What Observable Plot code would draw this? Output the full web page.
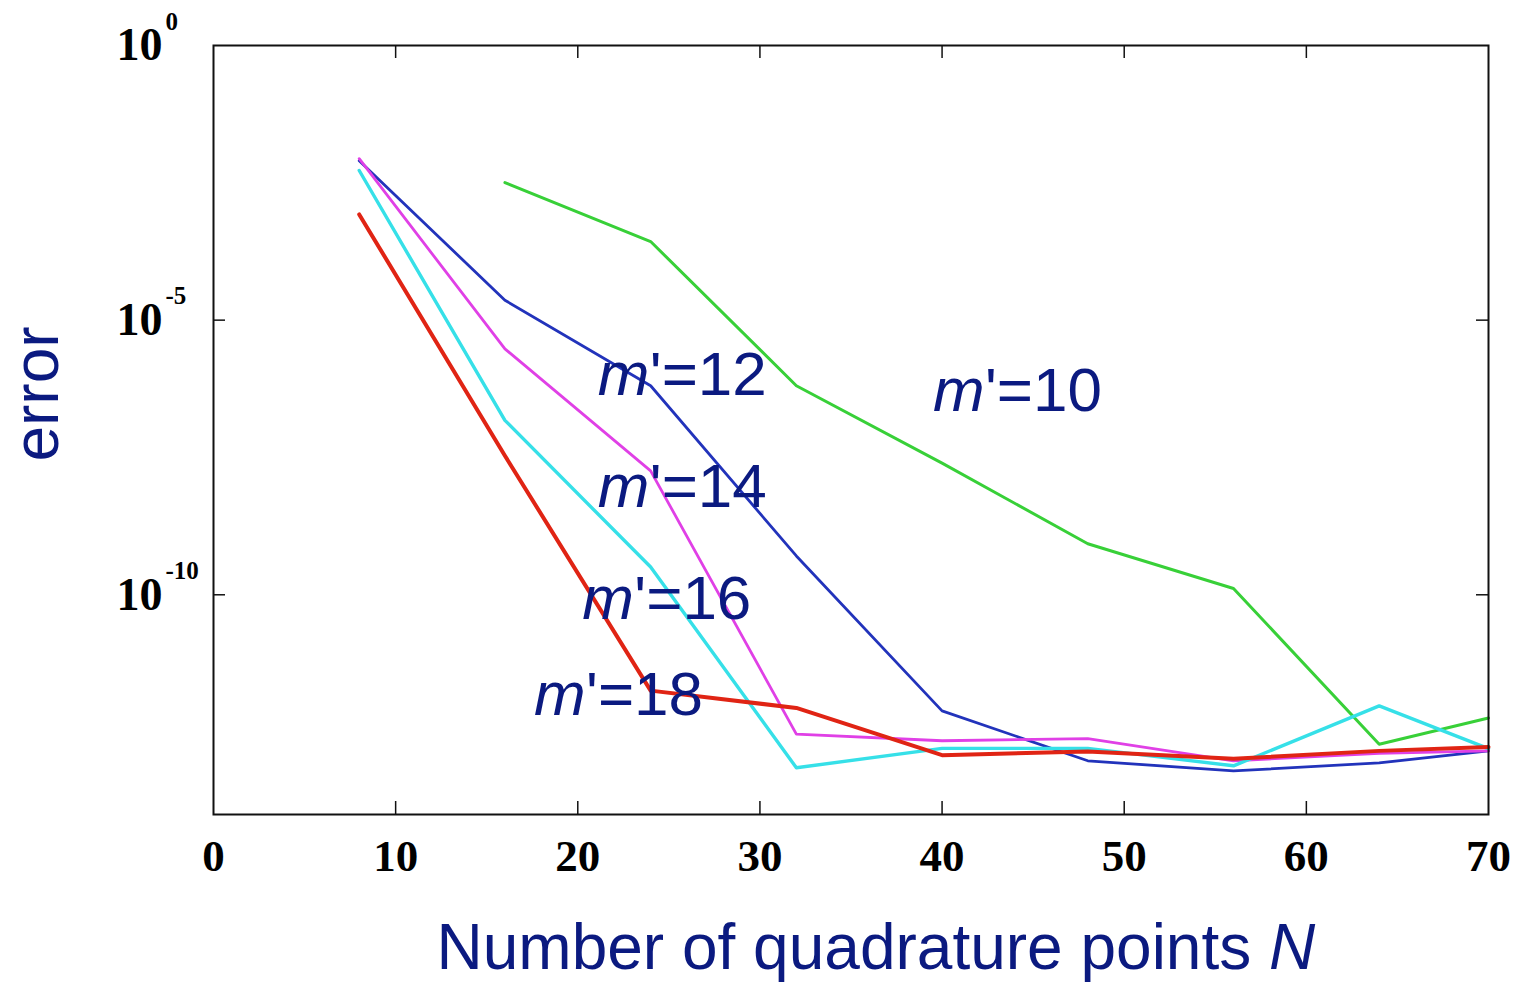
<!DOCTYPE html>
<html>
<head>
<meta charset="utf-8">
<script src="https://cdn.jsdelivr.net/npm/d3@7"></script>
<script src="https://cdn.jsdelivr.net/npm/@observablehq/plot@0.6"></script>
<style>
  html, body { margin: 0; padding: 0; background: #fff; }
  #chart svg { display: block; }
</style>
</head>
<body>
<div id="chart"></div>
<script>
// Quadrature error versus number of quadrature points N, one curve per m'
const N = [8, 16, 24, 32, 40, 48, 56, 64, 70];

const err10 = [null, 3.2e-3, 2.7e-4, 6.4e-7, 2.5e-8, 8.5e-10, 1.3e-10, 1.9e-13, 5.7e-13];
const err12 = [8.0e-3, 2.3e-5, 6.4e-7, 5.1e-10, 7.7e-13, 9.5e-14, 6.2e-14, 8.7e-14, 1.44e-13];
const err14 = [8.7e-3, 3.0e-6, 1.8e-8, 2.9e-13, 2.2e-13, 2.4e-13, 9.5e-14, 1.3e-13, 1.44e-13];
const err16 = [5.3e-3, 1.5e-7, 3.2e-10, 7.1e-14, 1.6e-13, 1.6e-13, 7.7e-14, 9.5e-13, 1.58e-13];
const err18 = [8.4e-4, 3.4e-8, 1.8e-12, 8.7e-13, 1.2e-13, 1.4e-13, 1.03e-13, 1.44e-13, 1.7e-13];

const seriesM = [10, 12, 14, 16, 18];
const seriesErr = [err10, err12, err14, err16, err18];
const seriesColor = ["#38d038", "#2233bb", "#e040e6", "#36e0e8", "#e02414"];
const seriesWidth = [3, 2.8, 2.8, 3.4, 4];

// Curve labels: m' value and the (N, error) point where each label starts
const labelM = [10, 12, 14, 16, 18];
const labelN = [39.5, 21.1, 21.1, 20.25, 17.6];
const labelErr = [2.25e-7, 4.4e-7, 3.9e-9, 3.7e-11, 6.6e-13];

// Axis ticks
const xTicks = [0, 10, 20, 30, 40, 50, 60, 70];
const xInnerTicks = [10, 20, 30, 40, 50, 60];
const yTicks = [1, 1e-5, 1e-10];
const yExponents = ["0", "-5", "-10"];
const yInnerTicks = [1e-5, 1e-10];

const rows = seriesM.flatMap((m, i) =>
  N.map((n, j) => ({m, N: n, err: seriesErr[i][j]})).filter(d => d.err != null)
);
const labels = labelM.map((m, i) => ({m, N: labelN[i], err: labelErr[i]}));
const yLabels = yTicks.map((v, i) => ({v, exp: yExponents[i]}));

const navy = "#0b1a80";
const sans = "'Liberation Sans', Arial, sans-serif";
const serif = "'Liberation Serif', 'Times New Roman', serif";

const chart = Plot.plot({
  width: 1517,
  height: 982,
  marginLeft: 213,
  marginRight: 29,
  marginTop: 45,
  marginBottom: 168,
  style: {background: "#fff", overflow: "visible"},
  x: {domain: [0, 70], axis: null},
  y: {type: "log", domain: [1e-14, 1], axis: null},
  marks: [
    // inward tick marks on all four sides
    Plot.ruleX(xInnerTicks, {x: d => d, insetTop: 756, stroke: "#111", strokeWidth: 1.5}),
    Plot.ruleX(xInnerTicks, {x: d => d, insetBottom: 756, stroke: "#111", strokeWidth: 1.5}),
    Plot.ruleY(yInnerTicks, {y: d => d, insetRight: 1263, stroke: "#111", strokeWidth: 1.5}),
    Plot.ruleY(yInnerTicks, {y: d => d, insetLeft: 1263, stroke: "#111", strokeWidth: 1.5}),
    // one line per m'
    ...seriesM.map((m, i) =>
      Plot.line(rows.filter(d => d.m === m), {
        x: "N", y: "err", stroke: seriesColor[i], strokeWidth: seriesWidth[i],
        strokeLinejoin: "round", strokeLinecap: "round"
      })
    ),
    Plot.frame({stroke: "#111", strokeWidth: 2}),
    // x tick labels
    Plot.text(xTicks, {
      x: d => d, text: d => String(d), frameAnchor: "bottom", dy: 56,
      lineAnchor: "bottom", textAnchor: "middle",
      fontFamily: serif, fontWeight: "bold", fontSize: 45, fill: "#000"
    }),
    // y tick labels: base 10 and its exponent
    Plot.text(yLabels, {
      y: "v", text: () => "10", frameAnchor: "left", dx: -51,
      textAnchor: "end", lineAnchor: "middle",
      fontFamily: serif, fontWeight: "bold", fontSize: 46, fill: "#000"
    }),
    Plot.text(yLabels, {
      y: "v", text: "exp", frameAnchor: "left", dx: -48, dy: -24,
      textAnchor: "start", lineAnchor: "middle",
      fontFamily: serif, fontWeight: "bold", fontSize: 25, fill: "#000"
    }),
    // curve labels m'=…
    Plot.text(labels, {
      x: "N", y: "err", text: () => "m", textAnchor: "start", lineAnchor: "bottom",
      fontFamily: sans, fontStyle: "italic", fontSize: 62, fill: navy
    }),
    Plot.text(labels, {
      x: "N", y: "err", text: d => `'=${d.m}`, dx: 52, textAnchor: "start", lineAnchor: "bottom",
      fontFamily: sans, fontSize: 62, fill: navy
    }),
    // axis titles
    Plot.text(["error"], {
      frameAnchor: "left", rotate: -90, dx: -156, dy: -36,
      textAnchor: "middle", lineAnchor: "bottom",
      fontFamily: sans, fontSize: 64, fill: navy
    }),
    Plot.text(["Number of quadrature points "], {
      frameAnchor: "bottom", dx: 418, dy: 154, textAnchor: "end", lineAnchor: "bottom",
      fontFamily: sans, fontSize: 64, fill: navy
    }),
    Plot.text(["N"], {
      frameAnchor: "bottom", dx: 418, dy: 154, textAnchor: "start", lineAnchor: "bottom",
      fontFamily: sans, fontStyle: "italic", fontSize: 64, fill: navy
    })
  ]
});

document.getElementById("chart").append(chart);
</script>
</body>
</html>
